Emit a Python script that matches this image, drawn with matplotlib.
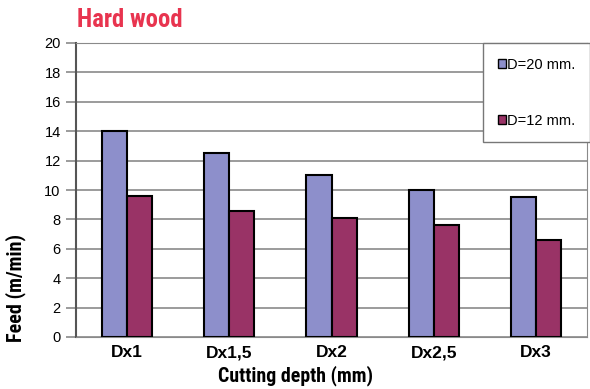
import matplotlib.pyplot as plt
import numpy as np

depths = ['Dx1', 'Dx1,5', 'Dx2', 'Dx2,5', 'Dx3']
feed_d20 = [14.0, 12.5, 11.0, 10.0, 9.5]
feed_d12 = [9.6, 8.6, 8.1, 7.6, 6.6]

narrow = ['Roboto Condensed', 'DejaVu Sans']
plain = ['Liberation Sans', 'DejaVu Sans']

fig = plt.figure(figsize=(5.9, 3.89), dpi=100)
ax = fig.add_axes([76 / 590, 1 - 337 / 389, 511 / 590, 294 / 389])

x = np.arange(len(depths))
w = 0.245
ax.bar(x - w / 2, feed_d20, w, color='#8d8fcb', edgecolor='black',
       linewidth=1.5, label='D=20 mm.', zorder=3)
ax.bar(x + w / 2, feed_d12, w, color='#993366', edgecolor='black',
       linewidth=1.5, label='D=12 mm.', zorder=3)

ax.set_xlim(-0.5, len(depths) - 0.5)
ax.set_ylim(0, 20)
ax.set_yticks(range(0, 21, 2))
ax.yaxis.grid(True, color='#8a8a8a', linewidth=1.2, zorder=0)
for side in ['top', 'right']:
    ax.spines[side].set_color('#8a8a8a')
ax.spines['left'].set_color('#555555')
ax.spines['left'].set_linewidth(1.5)
ax.spines['bottom'].set_color('#8a8a8a')
ax.tick_params(axis='y', length=7, color='#8a8a8a', width=1.2, pad=4)
ax.tick_params(axis='x', length=0, pad=6)
ax.set_yticklabels([str(v) for v in range(0, 21, 2)], family=plain, fontsize=10.5)
ax.set_xticks(x)
ax.set_xticklabels(depths, family=plain, fontsize=12.5, fontweight='bold')

# axis titles placed in figure pixels
fig.text(16 / 590, 1 - 288 / 389, 'Feed (m/min)', family=narrow, fontsize=14.5,
         fontweight='bold', rotation=90, ha='center', va='center')
fig.text(296 / 590, 1 - 376 / 389, 'Cutting depth (mm)', family=narrow,
         fontsize=14.3, fontweight='bold', ha='center', va='center')
fig.text(77 / 590, 1 - 20 / 389, 'Hard wood', family=narrow, fontsize=17.8,
         fontweight='bold', color='#e8344f', va='center', ha='left')

leg = ax.legend(loc='upper left', bbox_to_anchor=(483 / 590, 1 - 43 / 389),
                bbox_transform=fig.transFigure, fancybox=False,
                edgecolor='#777777', framealpha=1,
                prop={'family': plain, 'size': 10.5},
                labelspacing=2.9, handlelength=0.55, handleheight=0.55,
                handletextpad=0.1, borderpad=1.0, borderaxespad=0)
leg.get_frame().set_linewidth(1.0)
for h in leg.legend_handles:
    h.set_linewidth(1.0)

fig.savefig('out.png', dpi=100)
